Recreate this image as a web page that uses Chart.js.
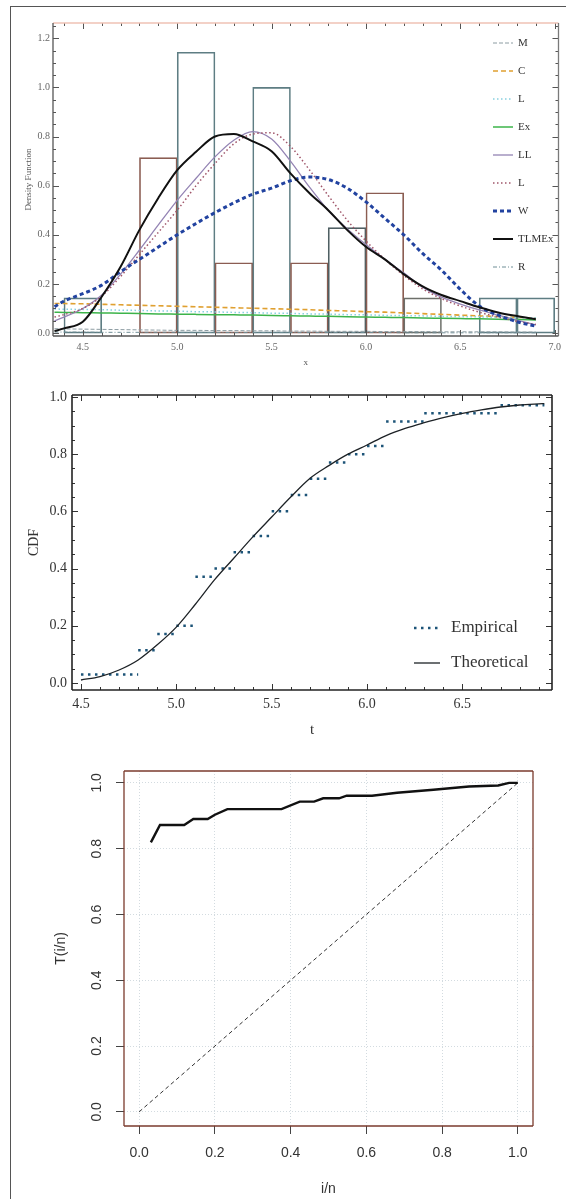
<!DOCTYPE html>
<html>
<head>
<meta charset="utf-8">
<script src="https://cdn.jsdelivr.net/npm/chart.js@4.4.1/dist/chart.umd.min.js"></script>
<style>
  html, body { margin: 0; padding: 0; background: #fff; }
  #page { position: relative; width: 566px; height: 1199px; overflow: hidden; }
  #outline { position: absolute; left: 10px; top: 6px; width: 600px; height: 1300px;
             border-left: 1px solid #555; border-top: 1px solid #555; }
  canvas { position: absolute; left: 0; }
</style>
</head>
<body>
<div id="page">
  <div id="outline"></div>
  <canvas id="density" width="566" height="380" style="top:0px"></canvas>
  <canvas id="cdf" width="566" height="375" style="top:370px"></canvas>
  <canvas id="ttt" width="566" height="469" style="top:730px"></canvas>
</div>
<script>
// ---------- panel 1: histogram + fitted densities ----------
const binCenters = [4.5, 4.7, 4.9, 5.1, 5.3, 5.5, 5.7, 5.9, 6.1, 6.3, 6.5, 6.7, 6.9];
const binDensity = [0.143, 0, 0.714, 1.143, 0.286, 1.0, 0.286, 0.429, 0.571, 0.143, 0, 0.143, 0.143];

const xGrid    = [4.35, 4.4, 4.5, 4.6, 4.7, 4.8, 4.9, 5.0, 5.1, 5.2, 5.3, 5.4, 5.5, 5.6, 5.7, 5.8, 5.9, 6.0, 6.1, 6.2, 6.3, 6.4, 6.5, 6.6, 6.7, 6.8, 6.9];
const densM    = [0.018, 0.017, 0.016, 0.015, 0.014, 0.013, 0.012, 0.011, 0.011, 0.010, 0.010, 0.009, 0.009, 0.008, 0.008, 0.007, 0.007, 0.007, 0.006, 0.006, 0.006, 0.005, 0.005, 0.005, 0.005, 0.004, 0.004];
const densC    = [0.120, 0.120, 0.119, 0.117, 0.115, 0.113, 0.111, 0.109, 0.107, 0.105, 0.103, 0.101, 0.099, 0.097, 0.095, 0.092, 0.090, 0.087, 0.085, 0.082, 0.079, 0.076, 0.073, 0.070, 0.067, 0.064, 0.061];
const densLc   = [0.098, 0.097, 0.096, 0.095, 0.093, 0.092, 0.090, 0.089, 0.087, 0.086, 0.084, 0.083, 0.081, 0.080, 0.078, 0.077, 0.075, 0.074, 0.072, 0.071, 0.070, 0.068, 0.067, 0.066, 0.064, 0.063, 0.062];
const densEx   = [0.085, 0.084, 0.083, 0.082, 0.081, 0.080, 0.078, 0.077, 0.076, 0.075, 0.074, 0.073, 0.071, 0.070, 0.069, 0.068, 0.066, 0.065, 0.064, 0.063, 0.061, 0.060, 0.059, 0.058, 0.056, 0.055, 0.053];
const densLL   = [0.050, 0.065, 0.100, 0.155, 0.240, 0.338, 0.440, 0.540, 0.630, 0.717, 0.785, 0.820, 0.790, 0.700, 0.595, 0.500, 0.425, 0.360, 0.300, 0.245, 0.187, 0.146, 0.118, 0.094, 0.073, 0.053, 0.033];
const densL    = [0.065, 0.075, 0.100, 0.150, 0.230, 0.320, 0.410, 0.500, 0.600, 0.690, 0.770, 0.810, 0.815, 0.760, 0.665, 0.560, 0.460, 0.375, 0.300, 0.235, 0.180, 0.140, 0.110, 0.085, 0.065, 0.048, 0.035];
const densW    = [0.107, 0.130, 0.160, 0.195, 0.250, 0.300, 0.350, 0.400, 0.446, 0.490, 0.530, 0.565, 0.590, 0.620, 0.635, 0.625, 0.590, 0.534, 0.467, 0.400, 0.324, 0.256, 0.178, 0.110, 0.073, 0.046, 0.028];
const densTLMEx= [0.008, 0.019, 0.046, 0.148, 0.270, 0.420, 0.550, 0.663, 0.738, 0.800, 0.810, 0.780, 0.740, 0.650, 0.570, 0.500, 0.420, 0.351, 0.300, 0.240, 0.190, 0.155, 0.130, 0.105, 0.084, 0.069, 0.056];
const densR    = [0.004, 0.004, 0.004, 0.003, 0.003, 0.003, 0.003, 0.003, 0.003, 0.002, 0.002, 0.002, 0.002, 0.002, 0.002, 0.002, 0.002, 0.002, 0.002, 0.001, 0.001, 0.001, 0.001, 0.001, 0.001, 0.001, 0.001];

const xTicks1 = [4.5, 5.0, 5.5, 6.0, 6.5, 7.0];
const yTicks1 = [0, 0.2, 0.4, 0.6, 0.8, 1.0, 1.2];

// ---------- panel 2: empirical vs theoretical CDF ----------
const ecdfX = [4.5, 4.8, 4.9, 5.0, 5.1, 5.2, 5.3, 5.4, 5.5, 5.6, 5.7, 5.8, 5.9, 6.0, 6.1, 6.3, 6.7, 6.93];
const ecdfY = [0.029, 0.114, 0.171, 0.2, 0.371, 0.4, 0.457, 0.514, 0.6, 0.657, 0.714, 0.771, 0.8, 0.829, 0.914, 0.943, 0.971];
const cdfX  = [4.5, 4.6, 4.7, 4.8, 4.9, 5.0, 5.1, 5.2, 5.3, 5.4, 5.5, 5.6, 5.7, 5.8, 5.9, 6.0, 6.1, 6.2, 6.3, 6.4, 6.5, 6.6, 6.7, 6.8, 6.9, 6.93];
const cdfY  = [0.010, 0.022, 0.045, 0.080, 0.133, 0.195, 0.275, 0.360, 0.435, 0.510, 0.580, 0.650, 0.715, 0.760, 0.800, 0.832, 0.865, 0.890, 0.910, 0.928, 0.943, 0.955, 0.965, 0.972, 0.976, 0.977];
const xTicks2 = [4.5, 5.0, 5.5, 6.0, 6.5];
const yTicks2 = [0, 0.2, 0.4, 0.6, 0.8, 1.0];

// ---------- panel 3: TTT plot ----------
const tttX = [0.031, 0.055, 0.119, 0.143, 0.181, 0.200, 0.233, 0.376, 0.424, 0.462, 0.486, 0.528, 0.548, 0.615, 0.681, 0.777, 0.871, 0.948, 0.977, 1.0];
const tttY = [0.819, 0.872, 0.872, 0.890, 0.890, 0.903, 0.920, 0.920, 0.943, 0.943, 0.953, 0.953, 0.961, 0.961, 0.970, 0.979, 0.989, 0.992, 1.0, 1.0];
const diagX = [0, 1];
const diagY = [0, 1];
const ticks3 = [0, 0.2, 0.4, 0.6, 0.8, 1.0];

const serif = 'Liberation Serif, DejaVu Serif, serif';
const sans = 'Liberation Sans, Arial, sans-serif';

function pts(xs, ys) { return xs.map((x, i) => ({ x: x, y: ys[i] })); }
function fixTicks(list) { return s => { s.ticks = list.map(v => ({ value: v })); }; }

// inward frame tick marks: [value, length]
function inTicks(lo, hi, step, majorStep) {
  const out = [];
  const n = Math.round((hi - lo) / step);
  for (let i = 0; i <= n; i++) {
    const v = lo + i * step;
    const k = v / majorStep;
    out.push([v, Math.abs(k - Math.round(k)) < 1e-6 ? 6 : 3]);
  }
  return out;
}

function makeFrame(cfg) {
  return {
    id: 'frameBox',
    afterDatasetsDraw(chart) {
      const { ctx, chartArea: a, scales } = chart;
      ctx.save();
      if (cfg.ticksX) {
        ctx.strokeStyle = cfg.tickColor;
        ctx.lineWidth = 1;
        ctx.beginPath();
        cfg.ticksX.forEach(([v, len]) => {
          const px = Math.round(scales.x.getPixelForValue(v)) + 0.5;
          if (px < a.left || px > a.right) return;
          ctx.moveTo(px, a.bottom); ctx.lineTo(px, a.bottom - len);
          ctx.moveTo(px, a.top); ctx.lineTo(px, a.top + len);
        });
        cfg.ticksY.forEach(([v, len]) => {
          const py = Math.round(scales.y.getPixelForValue(v)) + 0.5;
          if (py < a.top || py > a.bottom) return;
          ctx.moveTo(a.left, py); ctx.lineTo(a.left + len, py);
          ctx.moveTo(a.right, py); ctx.lineTo(a.right - len, py);
        });
        ctx.stroke();
      }
      const side = (c, x1, y1, x2, y2) => {
        ctx.strokeStyle = c;
        ctx.beginPath(); ctx.moveTo(x1, y1); ctx.lineTo(x2, y2); ctx.stroke();
      };
      ctx.lineWidth = cfg.width;
      side(cfg.top, a.left, a.top, a.right, a.top);
      side(cfg.right, a.right, a.top, a.right, a.bottom);
      side(cfg.bottom, a.left, a.bottom, a.right, a.bottom);
      side(cfg.left, a.left, a.top, a.left, a.bottom);
      ctx.restore();
    }
  };
}

// legend drawn inside the plot, one row per dataset that has a label
function makeLegend(cfg) {
  return {
    id: 'insideLegend',
    afterDraw(chart) {
      const { ctx } = chart;
      ctx.save();
      let row = 0;
      chart.data.datasets.forEach(ds => {
        if (!ds.label) return;
        const y = cfg.y0 + row * cfg.dy;
        ctx.strokeStyle = ds.borderColor;
        ctx.lineWidth = ds.borderWidth;
        ctx.setLineDash(ds.borderDash || []);
        ctx.beginPath();
        ctx.moveTo(cfg.x0, y); ctx.lineTo(cfg.x1, y);
        ctx.stroke();
        ctx.setLineDash([]);
        ctx.fillStyle = cfg.color;
        ctx.font = cfg.font;
        ctx.textBaseline = 'middle';
        ctx.fillText(ds.label, cfg.textX, y);
        row++;
      });
      ctx.restore();
    }
  };
}

// ---------- chart 1 ----------
const lineBase = { type: 'line', pointRadius: 0, fill: false, cubicInterpolationMode: 'monotone' };
const barEdges = ['#5e7d83', '#5e7d83', '#8b5d52', '#5e7d83', '#8b5d52', '#5e7d83',
                  '#8b5d52', '#4f5f63', '#8b5d52', '#6d6f6a', '#5e7d83', '#5e7d83', '#5e7d83'];

new Chart(document.getElementById('density'), {
  type: 'line',
  data: {
    datasets: [
      Object.assign({ label: 'M', data: pts(xGrid, densM), borderColor: '#8c9ca2', borderWidth: 1, borderDash: [4, 2], order: 8 }, lineBase),
      Object.assign({ label: 'C', data: pts(xGrid, densC), borderColor: '#e0a030', borderWidth: 1.6, borderDash: [5, 3], order: 7 }, lineBase),
      Object.assign({ label: 'L', data: pts(xGrid, densLc), borderColor: '#88d0e0', borderWidth: 1.5, borderDash: [1.5, 2.5], order: 6 }, lineBase),
      Object.assign({ label: 'Ex', data: pts(xGrid, densEx), borderColor: '#3cb44a', borderWidth: 1.5, order: 5 }, lineBase),
      Object.assign({ label: 'LL', data: pts(xGrid, densLL), borderColor: '#9484b4', borderWidth: 1.3, order: 4 }, lineBase),
      Object.assign({ label: 'L', data: pts(xGrid, densL), borderColor: '#a0566a', borderWidth: 1.5, borderDash: [1.5, 2.5], order: 3 }, lineBase),
      Object.assign({ label: 'W', data: pts(xGrid, densW), borderColor: '#2243a0', borderWidth: 3, borderDash: [4, 3], order: 2 }, lineBase),
      Object.assign({ label: 'TLMEx', data: pts(xGrid, densTLMEx), borderColor: '#111111', borderWidth: 2, order: 1 }, lineBase),
      Object.assign({ label: 'R', data: pts(xGrid, densR), borderColor: '#6f8e96', borderWidth: 1, borderDash: [4, 2, 1, 2], order: 9 }, lineBase),
      {
        type: 'bar',
        data: pts(binCenters, binDensity),
        backgroundColor: 'rgba(0,0,0,0)',
        borderColor: barEdges,
        borderWidth: 1,
        borderSkipped: false,
        barPercentage: 1,
        categoryPercentage: 1,
        order: 20
      }
    ]
  },
  options: {
    responsive: false,
    animation: false,
    devicePixelRatio: 1,
    layout: { padding: { top: 23, right: 4, left: 0, bottom: 0 } },
    plugins: { legend: { display: false }, tooltip: { enabled: false } },
    scales: {
      x: {
        type: 'linear', min: 4.342, max: 7.02, offset: false,
        afterBuildTicks: fixTicks(xTicks1),
        afterFit: s => { s.height = 44; },
        grid: { display: false, drawTicks: false, offset: false },
        border: { display: false },
        ticks: { font: { family: serif, size: 10 }, color: '#666', padding: 5, maxRotation: 0, autoSkip: false,
                 callback: v => v.toFixed(1) },
        title: { display: true, text: 'x', font: { family: serif, size: 9 }, color: '#555', padding: { top: 0, bottom: 11.6 } }
      },
      y: {
        type: 'linear', min: -0.012, max: 1.262,
        afterBuildTicks: fixTicks(yTicks1),
        afterFit: s => { s.width = 53; },
        grid: { display: false, drawTicks: false },
        border: { display: false },
        ticks: { font: { family: serif, size: 10 }, color: '#666', padding: 3, callback: v => v.toFixed(1) },
        title: { display: true, text: 'Density Function', font: { family: serif, size: 9 }, color: '#555', padding: { top: 23.6, bottom: 0 } }
      }
    }
  },
  plugins: [
    makeFrame({ width: 1.3, top: '#efc2b4', right: '#7a7a7a', bottom: '#555', left: '#555',
                tickColor: '#555', ticksX: inTicks(4.4, 7.0, 0.1, 0.5), ticksY: inTicks(0, 1.25, 0.05, 0.2) }),
    makeLegend({ x0: 493, x1: 513, textX: 518, y0: 43, dy: 28, font: '11px ' + serif, color: '#333' })
  ]
});

// ---------- chart 2 ----------
const stepPts = [];
ecdfY.forEach((y, i) => {
  stepPts.push({ x: ecdfX[i], y: y }, { x: ecdfX[i + 1], y: y }, { x: ecdfX[i + 1], y: null });
});

const dotDash = [2.5, 4.5];
new Chart(document.getElementById('cdf'), {
  type: 'line',
  data: {
    datasets: [
      { label: 'Theoretical', data: pts(cdfX, cdfY), borderColor: '#1d2226', borderWidth: 1.3, pointRadius: 0,
        cubicInterpolationMode: 'monotone', order: 1 },
      { label: 'Empirical', data: stepPts, borderColor: '#1d5478', borderWidth: 2.5, borderDash: dotDash,
        pointRadius: 0, spanGaps: false, tension: 0, order: 2 }
    ]
  },
  options: {
    responsive: false,
    animation: false,
    devicePixelRatio: 1,
    layout: { padding: { top: 25, right: 14, left: 0, bottom: 0 } },
    plugins: { legend: { display: false }, tooltip: { enabled: false } },
    scales: {
      x: {
        type: 'linear', min: 4.453, max: 6.97,
        afterBuildTicks: fixTicks(xTicks2),
        afterFit: s => { s.height = 55; },
        grid: { display: false, drawTicks: false },
        border: { display: false },
        ticks: { font: { family: serif, size: 14 }, color: '#333', padding: 6, maxRotation: 0, autoSkip: false,
                 callback: v => v.toFixed(1) },
        title: { display: true, text: 't', font: { family: serif, size: 15 }, color: '#333', padding: { top: 0, bottom: 6 } }
      },
      y: {
        type: 'linear', min: -0.025, max: 1.007,
        afterBuildTicks: fixTicks(yTicks2),
        afterFit: s => { s.width = 72; },
        grid: { display: false, drawTicks: false },
        border: { display: false },
        ticks: { font: { family: serif, size: 14 }, color: '#333', padding: 5, callback: v => v.toFixed(1) },
        title: { display: true, text: 'CDF', font: { family: serif, size: 14 }, color: '#333', padding: { top: 25.6, bottom: 0 } }
      }
    }
  },
  plugins: [
    makeFrame({ width: 1.6, top: '#222', right: '#222', bottom: '#222', left: '#222',
                tickColor: '#333', ticksX: inTicks(4.5, 6.9, 0.1, 0.5), ticksY: inTicks(0, 1.0, 0.05, 0.2) }),
    {
      id: 'cdfLegend',
      afterDraw(chart) {
        const { ctx } = chart;
        const rows = [
          { ds: chart.data.datasets[1], y: 258 },
          { ds: chart.data.datasets[0], y: 293 }
        ];
        ctx.save();
        rows.forEach(r => {
          ctx.strokeStyle = r.ds.borderColor;
          ctx.lineWidth = r.ds.borderWidth;
          ctx.setLineDash(r.ds.borderDash || []);
          ctx.beginPath(); ctx.moveTo(414, r.y); ctx.lineTo(440, r.y); ctx.stroke();
          ctx.setLineDash([]);
          ctx.fillStyle = '#333';
          ctx.font = '17px ' + serif;
          ctx.textBaseline = 'middle';
          ctx.fillText(r.ds.label, 451, r.y);
        });
        ctx.restore();
      }
    }
  ]
});

// ---------- chart 3 ----------
new Chart(document.getElementById('ttt'), {
  type: 'line',
  data: {
    datasets: [
      { data: pts(tttX, tttY), borderColor: '#111', borderWidth: 2.4, pointRadius: 0, tension: 0 },
      { data: pts(diagX, diagY), borderColor: '#333', borderWidth: 1, borderDash: [4, 3], pointRadius: 0, tension: 0 }
    ]
  },
  options: {
    responsive: false,
    animation: false,
    devicePixelRatio: 1,
    layout: { padding: { top: 41, right: 33, left: 0, bottom: 0 } },
    plugins: { legend: { display: false }, tooltip: { enabled: false } },
    scales: {
      x: {
        type: 'linear', min: -0.04, max: 1.04,
        afterBuildTicks: fixTicks(ticks3),
        afterFit: s => { s.height = 73; },
        grid: { color: '#d3dbe0', lineWidth: 1, tickLength: 8, tickColor: '#444', tickWidth: 1, tickBorderDash: [] },
        border: { display: false, dash: [1, 2] },
        ticks: { font: { family: sans, size: 14 }, color: '#333', padding: 11, maxRotation: 0, autoSkip: false,
                 callback: v => v.toFixed(1) },
        title: { display: true, text: 'i/n', font: { family: sans, size: 14 }, color: '#333', padding: { top: 0, bottom: 1.6 } }
      },
      y: {
        type: 'linear', min: -0.043, max: 1.036,
        afterBuildTicks: fixTicks(ticks3),
        afterFit: s => { s.width = 124; },
        grid: { color: '#d3dbe0', lineWidth: 1, tickLength: 8, tickColor: '#444', tickWidth: 1, tickBorderDash: [] },
        border: { display: false, dash: [1, 2] },
        ticks: { font: { family: sans, size: 14 }, color: '#333', padding: 9, minRotation: 90, maxRotation: 90,
                 crossAlign: 'center', callback: v => v.toFixed(1) },
        title: { display: true, text: 'T(i/n)', font: { family: sans, size: 14 }, color: '#333', padding: { top: 52.6, bottom: 0 } }
      }
    }
  },
  plugins: [
    makeFrame({ width: 1.3, top: '#7a3a2c', right: '#7a3a2c', bottom: '#7a3a2c', left: '#7a3a2c' })
  ]
});
</script>
</body>
</html>
